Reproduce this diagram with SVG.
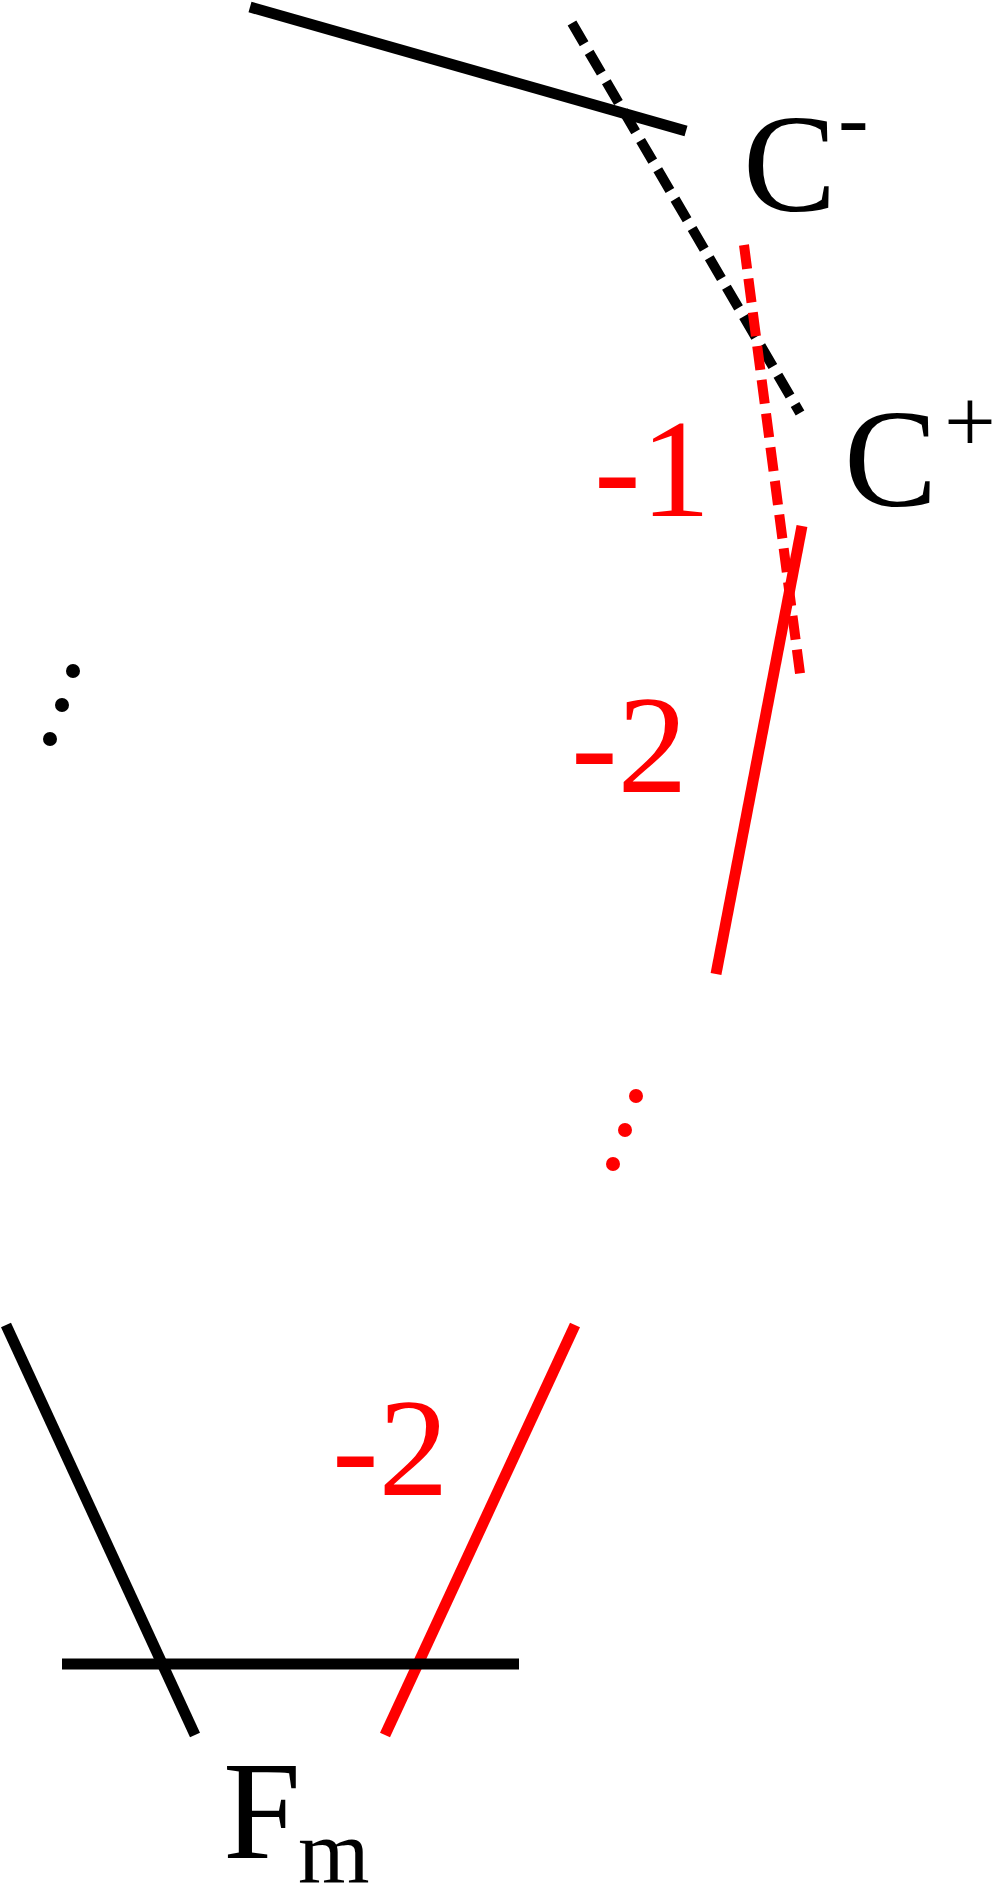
<svg xmlns="http://www.w3.org/2000/svg" width="993" height="1885" viewBox="0 0 993 1885">
  <style>
    .lbl { font-family: "Liberation Serif", "DejaVu Serif", serif; font-size: 140px; }
    .blk { fill: #000000; }
    .red { fill: #ff0000; }
    .sup { font-size: 92px; }
    .ln { fill: none; stroke-width: 11; stroke-linecap: butt; }
    .k { stroke: #000000; }
    .r { stroke: #ff0000; }
    .dash { stroke-width: 10; stroke-dasharray: 24 10; }
  </style>
  <rect x="0" y="0" width="993" height="1885" fill="#ffffff"/>
  <g id="connectors">
    <line class="ln k" x1="250" y1="7" x2="686" y2="131"/>
    <line class="ln k dash" x1="572" y1="23" x2="800" y2="413"/>
    <line class="ln r dash" x1="744" y1="245" x2="801" y2="681"/>
    <line class="ln r" x1="802" y1="526" x2="716" y2="974"/>
    <line class="ln k" x1="6" y1="1325" x2="195" y2="1735"/>
    <line class="ln r" x1="575" y1="1325" x2="385" y2="1735"/>
    <line class="ln k" x1="62" y1="1664" x2="519" y2="1664"/>
  </g>
  <g id="node-cminus">
    <text class="lbl blk" x="743" y="211">C<tspan class="sup" x="838" y="148">-</tspan></text>
  </g>
  <g id="node-cplus">
    <text class="lbl blk" x="844" y="506">C<tspan class="sup" x="944" y="452">+</tspan></text>
  </g>
  <g id="label-minus1">
    <text class="lbl red" x="594" y="516">-1</text>
  </g>
  <g id="label-minus2-mid">
    <text class="lbl red" x="571" y="792">-2</text>
  </g>
  <g id="label-minus2-bottom">
    <text class="lbl red" x="332" y="1495">-2</text>
  </g>
  <g id="node-fm">
    <text class="lbl blk" x="223" y="1858">F<tspan class="sup" x="298" y="1883">m</tspan></text>
  </g>
  <g id="dots-black">
    <circle class="blk" cx="73" cy="671" r="7"/>
    <circle class="blk" cx="62" cy="705" r="7"/>
    <circle class="blk" cx="50" cy="739" r="7"/>
  </g>
  <g id="dots-red">
    <circle class="red" cx="636" cy="1096" r="7"/>
    <circle class="red" cx="625" cy="1130" r="7"/>
    <circle class="red" cx="613" cy="1164" r="7"/>
  </g>
</svg>
